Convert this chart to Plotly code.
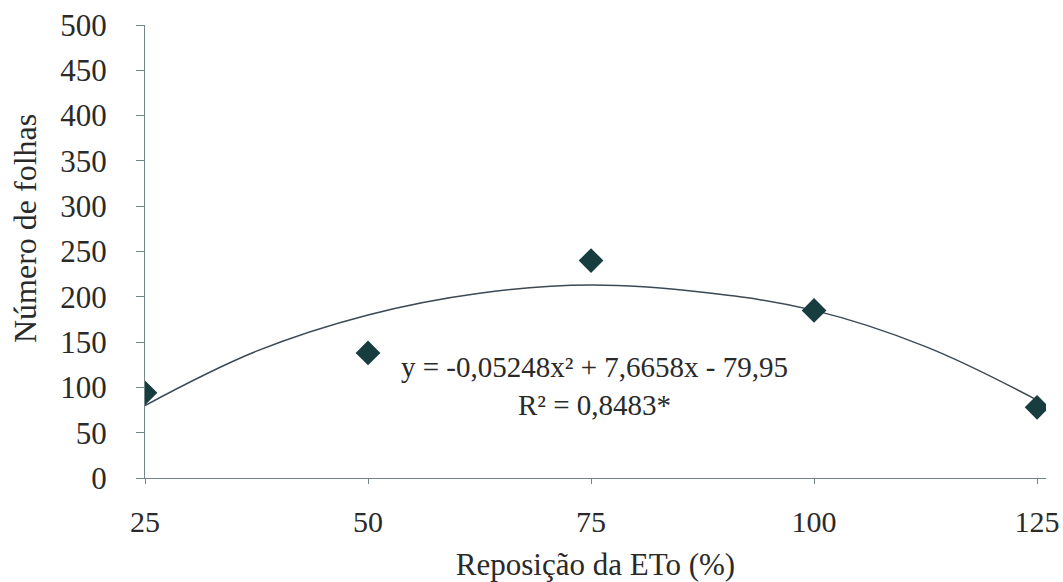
import plotly.graph_objects as go

# Data
reposicao = [25, 50, 75, 100, 125]
num_folhas = [94, 138, 240, 185, 78]

# Fitted curve as drawn
curve_x = [25, 37.5, 50, 62.5, 75, 87.5, 100, 112.5, 125]
curve_y = [80, 140, 180, 204, 213, 205, 185, 145, 86]

y_ticks = [0, 50, 100, 150, 200, 250, 300, 350, 400, 450, 500]
x_ticks = [25, 50, 75, 100, 125]

equation = "y = -0,05248x² + 7,6658x - 79,95"
r2_text = "R² = 0,8483*"

font_family = "Liberation Serif"
text_color = "#2a2a2a"

fig = go.Figure()
fig.add_trace(go.Scatter(
    x=curve_x, y=curve_y, mode="lines",
    line=dict(color="#3b4a56", width=1.5, shape="spline", smoothing=1.1),
    showlegend=False, hoverinfo="skip",
))
fig.add_trace(go.Scatter(
    x=reposicao, y=num_folhas, mode="markers",
    marker=dict(symbol="diamond", size=19, color="#173d3f"),
    showlegend=False,
))

fig.add_annotation(x=75.4, y=101, xref="x", yref="y",
                   text=equation + "<br>" + r2_text, align="center",
                   showarrow=False, font=dict(family=font_family, size=29, color=text_color))

# Y-axis title (placed as rotated text)
fig.add_annotation(x=-0.133, y=0.55, xref="paper", yref="paper",
                   xanchor="center", yanchor="middle",
                   text="Número de folhas", textangle=-90, showarrow=False,
                   font=dict(family=font_family, size=32, color=text_color))

fig.update_layout(
    width=1063, height=582,
    margin=dict(l=145, r=17, t=25, b=104, autoexpand=False),
    paper_bgcolor="white", plot_bgcolor="white",
    font=dict(family=font_family, size=30, color=text_color),
    xaxis=dict(
        range=[25, 126], tickvals=x_ticks, ticktext=[str(v) for v in x_ticks],
        showgrid=False, zeroline=False, showline=True, linecolor="#74868a", linewidth=1,
        ticks="outside", ticklen=5, tickcolor="#74868a", ticklabelstandoff=12,
        automargin=False,
        title=dict(text="Reposição da ETo (%)", standoff=17,
                   font=dict(family=font_family, size=31, color=text_color)),
        tickfont=dict(family=font_family, size=30, color=text_color),
    ),
    yaxis=dict(
        range=[0, 500], tickvals=y_ticks,
        showgrid=False, zeroline=False, showline=True, linecolor="#74868a", linewidth=1,
        ticks="outside", ticklen=8, tickcolor="#74868a", ticklabelstandoff=23,
        automargin=False,
        tickfont=dict(family=font_family, size=31, color=text_color),
    ),
)

fig.write_html("out.html")
